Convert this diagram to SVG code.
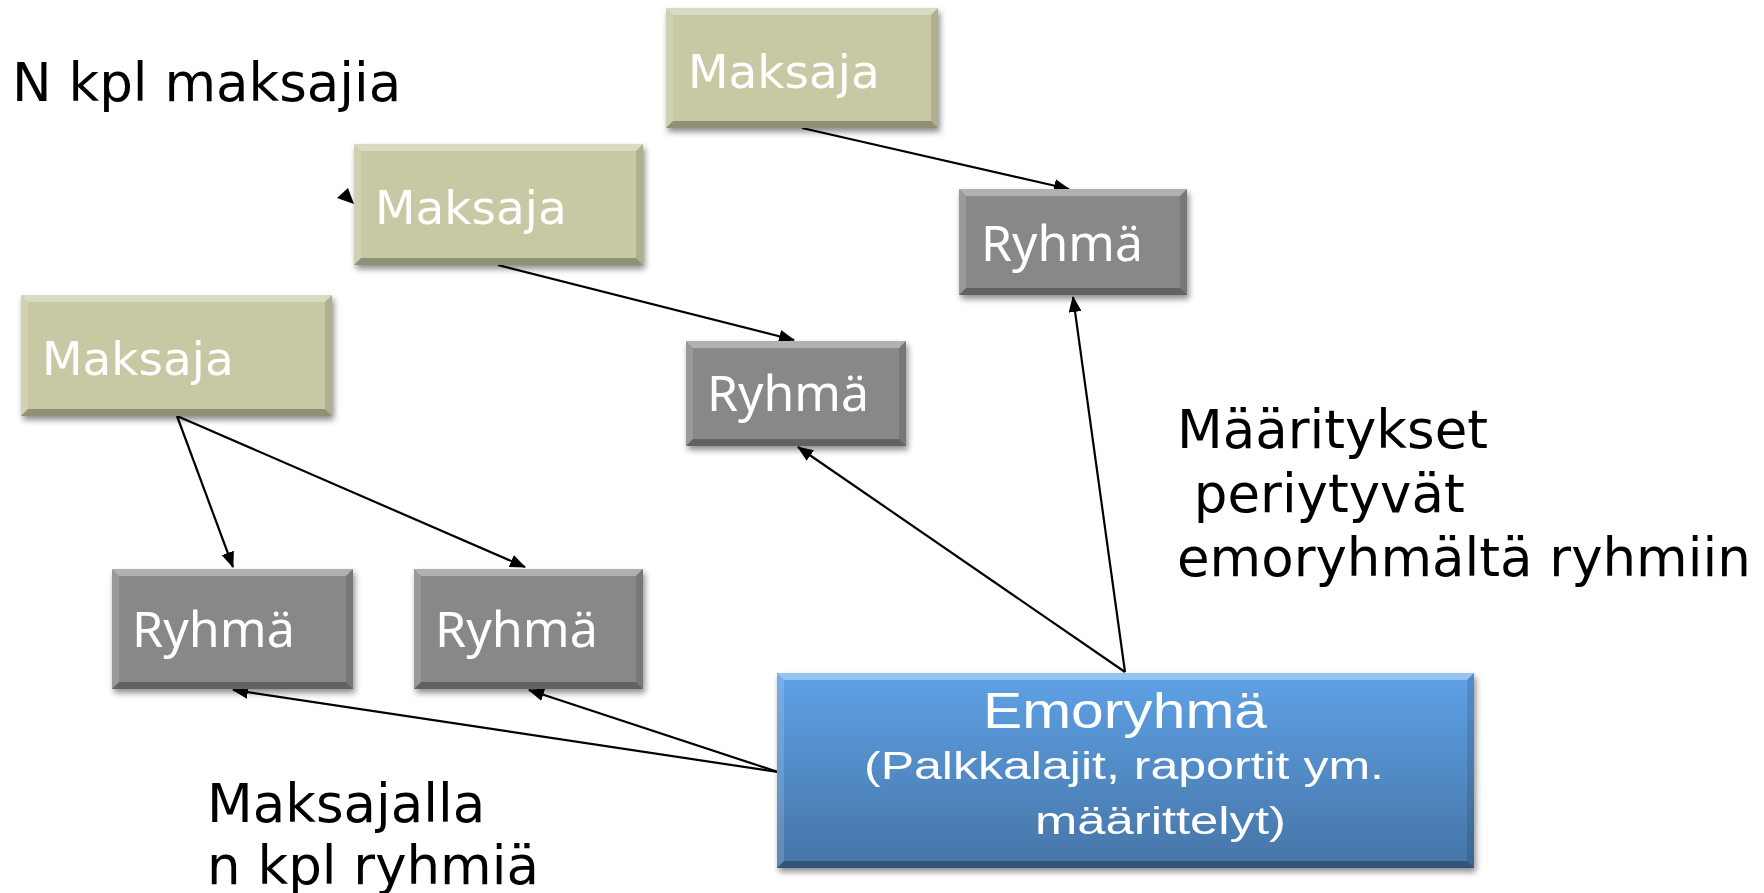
<svg xmlns="http://www.w3.org/2000/svg" width="1764" height="893" viewBox="0 0 1764 893">
<defs>
<style>
.bg{fill:#ffffff}
.mk{fill:#C8C8A5}
.ry{fill:#888888}
.emo{fill:url(#emoGrad)}
.bt{fill:#ffffff;fill-opacity:0.35}
.bl{fill:#ffffff;fill-opacity:0.15}
.br{fill:#000000;fill-opacity:0.12}
.bb{fill:#000000;fill-opacity:0.28}
.box{filter:url(#shadow)}
.tMk{font-family:"DejaVu Sans",Verdana,sans-serif;font-size:47px;fill:#ffffff}
.tRy{font-family:"Noto Sans","Open Sans",sans-serif;font-size:50px;fill:#ffffff}
.tEmo{font-family:"Liberation Sans",Arial,sans-serif;fill:#ffffff;text-anchor:start}
.lbl{font-family:"DejaVu Sans",Verdana,sans-serif;font-size:53px;fill:#000000}
.conn{stroke:#000000;stroke-width:2.2;fill:none;marker-end:url(#arrow)}
</style>
<linearGradient id="emoGrad" x1="0" y1="0" x2="0" y2="1">
<stop offset="0" stop-color="#5EA2E6"/>
<stop offset="1" stop-color="#4674A6"/>
</linearGradient>
<filter id="shadow" x="-5%" y="-5%" width="115%" height="125%">
<feGaussianBlur in="SourceAlpha" stdDeviation="3"/>
<feOffset dx="2" dy="4" result="b"/>
<feComponentTransfer><feFuncA type="linear" slope="0.45"/></feComponentTransfer>
<feMerge><feMergeNode/><feMergeNode in="SourceGraphic"/></feMerge>
</filter>
<marker id="arrow" markerUnits="userSpaceOnUse" markerWidth="16" markerHeight="13" refX="15" refY="6.5" orient="auto">
<path d="M0,0 L16,6.5 L0,13 z" fill="#000000"/>
</marker>
</defs>
<rect class="bg" x="0" y="0" width="1764" height="893"/>

<g id="connectors">
<line class="conn" x1="802" y1="128" x2="1069" y2="189"/>
<line class="conn" x1="498" y1="265" x2="794" y2="340"/>
<line class="conn" x1="177" y1="416" x2="233" y2="567"/>
<line class="conn" x1="177" y1="416" x2="525" y2="567"/>
<line class="conn" x1="1125" y1="672" x2="1073" y2="297"/>
<line class="conn" x1="1125" y1="672" x2="798" y2="447"/>
<line class="conn" x1="778" y1="772" x2="233" y2="690"/>
<line class="conn" x1="778" y1="772" x2="529" y2="690"/>
<polygon points="337,198 348,188 354,204" fill="#000000"/>
</g>

<g id="maksaja1" class="box">
<rect class="mk" x="666" y="8" width="272" height="120"/>
<polygon class="bt" points="666,8 938,8 931,15 673,15"/>
<polygon class="bl" points="666,8 673,15 673,121 666,128"/>
<polygon class="br" points="938,8 938,128 931,121 931,15"/>
<polygon class="bb" points="666,128 673,121 931,121 938,128"/>
<text class="tMk" x="688" y="88">Maksaja</text>
</g>

<g id="maksaja2" class="box">
<rect class="mk" x="354" y="144" width="289" height="121"/>
<polygon class="bt" points="354,144 643,144 636,151 361,151"/>
<polygon class="bl" points="354,144 361,151 361,258 354,265"/>
<polygon class="br" points="643,144 643,265 636,258 636,151"/>
<polygon class="bb" points="354,265 361,258 636,258 643,265"/>
<text class="tMk" x="375" y="224">Maksaja</text>
</g>

<g id="maksaja3" class="box">
<rect class="mk" x="21" y="295" width="311" height="121"/>
<polygon class="bt" points="21,295 332,295 325,302 28,302"/>
<polygon class="bl" points="21,295 28,302 28,409 21,416"/>
<polygon class="br" points="332,295 332,416 325,409 325,302"/>
<polygon class="bb" points="21,416 28,409 325,409 332,416"/>
<text class="tMk" x="42" y="375">Maksaja</text>
</g>

<g id="ryhma1" class="box">
<rect class="ry" x="959" y="189" width="228" height="106"/>
<polygon class="bt" points="959,189 1187,189 1180,196 966,196"/>
<polygon class="bl" points="959,189 966,196 966,288 959,295"/>
<polygon class="br" points="1187,189 1187,295 1180,288 1180,196"/>
<polygon class="bb" points="959,295 966,288 1180,288 1187,295"/>
<text class="tRy" x="981" y="261" textLength="162" lengthAdjust="spacingAndGlyphs">Ryhmä</text>
</g>

<g id="ryhma2" class="box">
<rect class="ry" x="686" y="341" width="220" height="105"/>
<polygon class="bt" points="686,341 906,341 899,348 693,348"/>
<polygon class="bl" points="686,341 693,348 693,439 686,446"/>
<polygon class="br" points="906,341 906,446 899,439 899,348"/>
<polygon class="bb" points="686,446 693,439 899,439 906,446"/>
<text class="tRy" x="707" y="411" textLength="162" lengthAdjust="spacingAndGlyphs">Ryhmä</text>
</g>

<g id="ryhma3" class="box">
<rect class="ry" x="112" y="569" width="241" height="120"/>
<polygon class="bt" points="112,569 353,569 346,576 119,576"/>
<polygon class="bl" points="112,569 119,576 119,682 112,689"/>
<polygon class="br" points="353,569 353,689 346,682 346,576"/>
<polygon class="bb" points="112,689 119,682 346,682 353,689"/>
<text class="tRy" x="132" y="647" textLength="163" lengthAdjust="spacingAndGlyphs">Ryhmä</text>
</g>

<g id="ryhma4" class="box">
<rect class="ry" x="414" y="569" width="229" height="120"/>
<polygon class="bt" points="414,569 643,569 636,576 421,576"/>
<polygon class="bl" points="414,569 421,576 421,682 414,689"/>
<polygon class="br" points="643,569 643,689 636,682 636,576"/>
<polygon class="bb" points="414,689 421,682 636,682 643,689"/>
<text class="tRy" x="435" y="647" textLength="163" lengthAdjust="spacingAndGlyphs">Ryhmä</text>
</g>

<g id="emoryhma" class="box">
<rect class="emo" x="777" y="673" width="697" height="195"/>
<polygon class="bt" points="777,673 1474,673 1467,680 784,680"/>
<polygon class="bl" points="777,673 784,680 784,861 777,868"/>
<polygon class="br" points="1474,673 1474,868 1467,861 1467,680"/>
<polygon class="bb" points="777,868 784,861 1467,861 1474,868"/>
<text class="tEmo" x="983" y="728" font-size="50" textLength="284" lengthAdjust="spacingAndGlyphs">Emoryhmä</text>
<text class="tEmo" x="864" y="779" font-size="38" textLength="520" lengthAdjust="spacingAndGlyphs">(Palkkalajit, raportit ym.</text>
<text class="tEmo" x="1035" y="834" font-size="38" textLength="251" lengthAdjust="spacingAndGlyphs">määrittelyt)</text>
</g>

<g id="labels">
<text class="lbl" x="12" y="101" font-size="54">N kpl maksajia</text>
<text class="lbl" x="1177" y="448">Määritykset</text>
<text class="lbl" x="1177" y="512" xml:space="preserve"> periytyvät</text>
<text class="lbl" x="1177" y="576">emoryhmältä ryhmiin</text>
<text class="lbl" x="207" y="822">Maksajalla</text>
<text class="lbl" x="207" y="884">n kpl ryhmiä</text>
</g>
</svg>
